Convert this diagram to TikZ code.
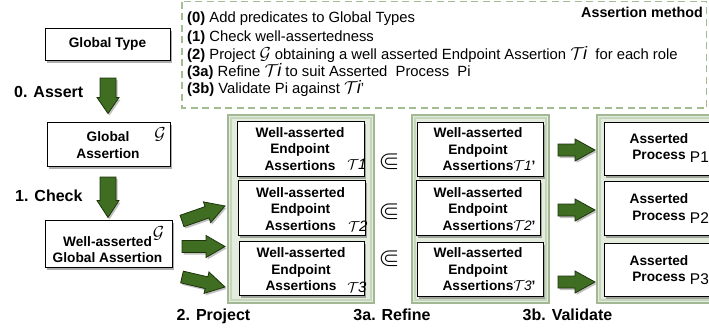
\documentclass[tikz,border=0pt]{standalone}
\usepackage{amssymb}
\usepackage{fontspec}
\setmainfont{Liberation Sans}
\usetikzlibrary{calc,shadows}
\definecolor{arrowgreen}{HTML}{3F6E22}
\definecolor{arrowdark}{HTML}{1C330C}
\definecolor{dashgreen}{HTML}{A3BD93}
\definecolor{panelfill}{HTML}{E3ECDD}
\definecolor{paneledge}{HTML}{A2B895}
\definecolor{panelmid}{HTML}{C6D6BC}
\tikzset{
  box/.style={draw=black, line width=0.8pt, fill=white, inner sep=0pt,
    drop shadow={shadow xshift=2pt, shadow yshift=-2.5pt, opacity=0.45, fill=black!70}},
  lbl/.style={font=\bfseries\fontsize{13.7}{16.5}\selectfont, align=center, inner sep=0pt},
  stagelbl/.style={font=\bfseries\fontsize{16}{19}\selectfont, inner sep=0pt},
  mathsym/.style={font=\fontsize{15}{18}\selectfont, inner sep=0pt},
  bigsym/.style={font=\fontsize{18.5}{20}\selectfont, inner sep=0pt},
  subsym/.style={font=\fontsize{27}{28}\selectfont, inner sep=0pt},
  methodline/.style={anchor=base west, inner sep=0pt, font=\fontsize{14.8}{17.6}\selectfont},
  fatarr/.style={draw=arrowdark, fill=arrowgreen, line width=0.8pt, line join=miter,
    drop shadow={shadow xshift=1.5pt, shadow yshift=-2pt, opacity=0.35, fill=black!70}},
  panel/.style={fill=panelfill, draw=paneledge, line width=2pt},
}
% fat arrow from named point #1 to named point #2; #3 shaft half width, #4 head half width, #5 head length
\newcommand\fatarrow[5]{%
  \coordinate (#1-h) at ($(#2)!#5pt!(#1)$);
  \draw[fatarr] ($(#1)!#3pt!90:(#2)$) -- ($(#1-h)!#3pt!90:(#2)$) -- ($(#1-h)!#4pt!90:(#2)$)
    -- (#2) -- ($(#1-h)!#4pt!-90:(#2)$) -- ($(#1-h)!#3pt!-90:(#2)$) -- ($(#1)!#3pt!-90:(#2)$) -- cycle;}
\newcommand\TT[1]{$\mathcal{T}\mkern-1mu\mathit{#1}$}
\newcommand\TTbig[1]{{\fontsize{18}{18}\selectfont\smash{$\mathcal{T}\mkern-1mu\mathit{#1}$}}}
\newcommand\GGbig{{\fontsize{18}{18}\selectfont\smash{$\mathcal{G}$}}}
\begin{document}
\begin{tikzpicture}[x=1pt,y=-1pt]
\useasboundingbox (0,0) rectangle (709,332);
\clip (0,0) rectangle (709,332);
\fill[white] (0,0) rectangle (709,332);

% method box
\draw[dashgreen, line width=1.6pt, dash pattern=on 7pt off 4.5pt] (182,1.5) rectangle (706.5,108);
\node[anchor=base east, inner sep=0pt, font=\bfseries\fontsize{14.3}{17}\selectfont] (mtitle) at (703,17) {Assertion method};
\node[methodline] (m0) at (187,23) {\textbf{(0)} Add predicates to Global Types};
\node[methodline] (m1) at (187,41.5) {\textbf{(1)} Check well-assertedness};
\node[methodline] (m2) at (187,59.5) {\textbf{(2)} Project \GGbig{} obtaining a well asserted Endpoint Assertion \TTbig{i}\ \ for each role};
\node[methodline] (m3) at (187,76.5) {\textbf{(3a)} Refine \TTbig{i} to suit Asserted\ \ Process\ \ Pi};
\node[methodline] (m4) at (187,93.5) {\textbf{(3b)} Validate Pi against \TTbig{i}'};

% panels
\path[panel] (228,115) rectangle (374,303);
\path[panel] (412,115) rectangle (549,303);
\path[panel] (597,115) rectangle (725,303);
\draw[panelmid, line width=2pt] (231,118) rectangle (371,300);
\draw[panelmid, line width=2pt] (415,118) rectangle (546,300);
\draw[panelmid, line width=2pt] (600,118) rectangle (725,300);

% left column
\node[box, minimum width=125pt, minimum height=32pt] (gt) at (107.5,44) {};
\node[lbl] (gtl) at (107.5,44) {Global Type};
\node[box, minimum width=123pt, minimum height=44pt] (ga) at (108.5,144) {};
\node[lbl] (gal) at (108,145) {Global\\Assertion};
\node[bigsym] (gag) at (160,134) {$\mathcal{G}$};
\node[box, minimum width=127pt, minimum height=47pt] (wga) at (108.5,243.5) {};
\node[lbl] (wgal) at (107.5,249.5) {Well-asserted\\Global Assertion};
\node[bigsym] (wgag) at (158.5,233) {$\mathcal{G}$};

\node[stagelbl, anchor=base west] (s0) at (14,97) {0. Assert};
\node[stagelbl, anchor=base west] (s1) at (15,201) {1. Check};
\node[stagelbl, anchor=base] (s2) at (213.5,320) {2. Project};
\node[stagelbl, anchor=base] (s3a) at (392,320) {3a. Refine};
\node[stagelbl, anchor=base] (s3b) at (567.5,320) {3b. Validate};

% column 1: endpoint assertions
\node[box, minimum width=127pt, minimum height=55pt] (e1) at (300.5,148.5) {};
\node[box, minimum width=127pt, minimum height=55pt] (e2) at (301.5,207.5) {};
\node[box, minimum width=125pt, minimum height=54pt] (e3) at (301.5,268) {};
\node[lbl] (e1l) at (300,149) {Well-asserted\\Endpoint\\Assertions};
\node[lbl] (e2l) at (300.5,209) {Well-asserted\\Endpoint\\Assertions};
\node[lbl] (e3l) at (301,269.5) {Well-asserted\\Endpoint\\Assertions};
\node[mathsym] (t1) at (357,164) {\TT{1}};
\node[mathsym] (t2) at (358,226) {\TT{2}};
\node[mathsym] (t3) at (357,287.5) {\TT{3}};

% subset symbols
\node[subsym] (sub1) at (389,162) {$\Subset$};
\node[subsym] (sub2) at (389,212) {$\Subset$};
\node[subsym] (sub3) at (389,259) {$\Subset$};

% column 2: refined endpoint assertions
\node[box, minimum width=126pt, minimum height=54pt] (r1) at (480,149) {};
\node[box, minimum width=124pt, minimum height=55pt] (r2) at (478,207.5) {};
\node[box, minimum width=126pt, minimum height=54pt] (r3) at (480,269) {};
\node[lbl] (r1l) at (478,149.5) {Well-asserted\\Endpoint\\Assertions\rlap{\TT{1}'}};
\node[lbl] (r2l) at (478,209) {Well-asserted\\Endpoint\\Assertions\rlap{\TT{2}'}};
\node[lbl] (r3l) at (478,269.5) {Well-asserted\\Endpoint\\Assertions\rlap{\TT{3}'}};

% column 3: asserted processes
\node[box, minimum width=126pt, minimum height=53pt] (p1) at (667,148.5) {};
\node[box, minimum width=126pt, minimum height=54pt] (p2) at (667,208) {};
\node[box, minimum width=126pt, minimum height=53pt] (p3) at (667,269.5) {};
\node[lbl] (p1l) at (659,148) {Asserted\\Process\rlap{\fontseries{m}\selectfont\fontsize{15.5}{16}\selectfont\ \raisebox{-3pt}{P1}}};
\node[lbl] (p2l) at (659,208.5) {Asserted\\Process\rlap{\fontseries{m}\selectfont\fontsize{15.5}{16}\selectfont\ \raisebox{-3pt}{P2}}};
\node[lbl] (p3l) at (659,270) {Asserted\\Process\rlap{\fontseries{m}\selectfont\fontsize{15.5}{16}\selectfont\ \raisebox{-3pt}{P3}}};

% arrows
\coordinate (da1) at (108,78);  \coordinate (da1e) at (108,113.5);
\coordinate (da2) at (108,177); \coordinate (da2e) at (108,217.5);
\fatarrow{da1}{da1e}{8}{11}{16}
\fatarrow{da2}{da2e}{8}{11}{17}
\coordinate (pa1) at (182,221); \coordinate (pa1e) at (225,206);
\coordinate (pa2) at (182,246.5); \coordinate (pa2e) at (225,246.5);
\coordinate (pa3) at (182,277); \coordinate (pa3e) at (225,287);
\fatarrow{pa1}{pa1e}{6}{11}{19}
\fatarrow{pa2}{pa2e}{6}{11}{19}
\fatarrow{pa3}{pa3e}{6}{11}{19}
\coordinate (va1) at (558,150); \coordinate (va1e) at (595,150);
\coordinate (va2) at (558,210); \coordinate (va2e) at (595,210);
\coordinate (va3) at (558,282); \coordinate (va3e) at (595,282);
\fatarrow{va1}{va1e}{6}{11}{20}
\fatarrow{va2}{va2e}{6}{11}{20}
\fatarrow{va3}{va3e}{6}{11}{20}
\end{tikzpicture}
\end{document}
